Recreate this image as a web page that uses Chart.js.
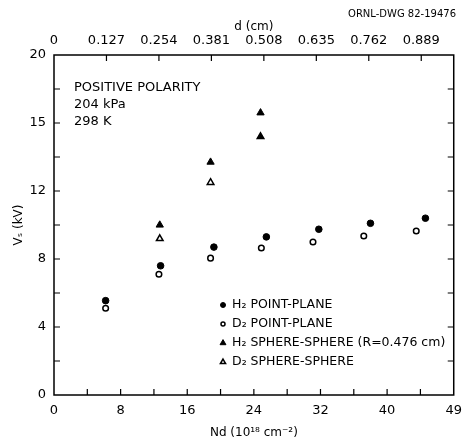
<!DOCTYPE html>
<html>
<head>
<meta charset="utf-8">
<script src="https://cdn.jsdelivr.net/npm/chart.js@4.4.1/dist/chart.umd.min.js"></script>
<style>
  html, body { margin: 0; padding: 0; background: #fff; }
  #wrap { width: 470px; height: 442px; }
</style>
</head>
<body>
<div id="wrap"><canvas id="chart"></canvas></div>
<script>
// Datos
const h2PlaneX = [6.2, 12.8, 19.2, 25.5, 31.8, 38.0, 44.6];
const h2PlaneY = [5.55, 7.6, 8.7, 9.3, 9.75, 10.1, 10.4];
const d2PlaneX = [6.2, 12.6, 18.8, 24.9, 31.1, 37.2, 43.5];
const d2PlaneY = [5.1, 7.1, 8.05, 8.65, 9.0, 9.35, 9.65];
const h2SphereX = [12.7, 18.8, 24.8];
const h2SphereY = [10.0, 13.7, 16.6];
const d2SphereX = [12.7, 18.8, 24.8];
const d2SphereY = [9.2, 12.5, 15.2];

const seriesNames = ['H₂ POINT-PLANE', 'D₂ POINT-PLANE', 'H₂ SPHERE-SPHERE (R=0.476 cm)', 'D₂ SPHERE-SPHERE'];

// Etiquetas de los ejes (tal como aparecen)
const yTickValues = [0, 4, 8, 12, 16, 20];
const yTickText = ['0', '4', '8', '12', '15', '20'];
const xTickValues = [0, 8, 16, 24, 32, 40, 48];
const xTickText = ['0', '8', '16', '24', '32', '40', '49'];
const dTickText = ['0', '0.127', '0.254', '0.381', '0.508', '0.635', '0.762', '0.889'];
const dTickStep = 6.3; // Nd por cada 0.127 cm

const notes = ['POSITIVE POLARITY', '204 kPa', '298 K'];
const drawingId = 'ORNL-DWG 82-19476';

const font = 'DejaVu Sans';

function pts(xs, ys) {
    return xs.map((x, i) => ({ x: x, y: ys[i] }));
}

const markerStyles = [
    { pointStyle: 'circle', radius: 3.3, fill: '#000', border: 1 },
    { pointStyle: 'circle', radius: 2.8, fill: '#fff', border: 1.5 },
    { pointStyle: 'triangle', radius: 4.2, fill: '#000', border: 1 },
    { pointStyle: 'triangle', radius: 3.8, fill: '#fff', border: 1.5 }
];

const datasets = [
    pts(h2PlaneX, h2PlaneY),
    pts(d2PlaneX, d2PlaneY),
    pts(h2SphereX, h2SphereY),
    pts(d2SphereX, d2SphereY)
].map((data, i) => ({
    label: seriesNames[i],
    data: data,
    showLine: false,
    pointStyle: markerStyles[i].pointStyle,
    pointRadius: markerStyles[i].radius,
    pointBackgroundColor: (i === 3)
        ? (ctx => ctx.dataIndex === 2 ? '#000' : '#fff')
        : markerStyles[i].fill,
    pointBorderColor: '#000',
    pointBorderWidth: markerStyles[i].border
}));

// Marco, marcas hacia adentro, leyenda y notas
const framePlugin = {
    id: 'frame',
    afterDraw(chart) {
        const ctx = chart.ctx;
        const a = chart.chartArea;
        const sx = chart.scales.x, sy = chart.scales.y, st = chart.scales.xTop;
        ctx.save();
        ctx.strokeStyle = '#000';
        ctx.lineWidth = 1.5;
        ctx.strokeRect(a.left, a.top, a.right - a.left, a.bottom - a.top);
        ctx.lineWidth = 1.2;
        ctx.beginPath();
        for (let v = 4; v < 48; v += 4) {
            const px = sx.getPixelForValue(v);
            ctx.moveTo(px, a.bottom); ctx.lineTo(px, a.bottom - 6);
        }
        for (let k = 1; k < dTickText.length; k++) {
            const px = st.getPixelForValue(k * dTickStep);
            ctx.moveTo(px, a.top); ctx.lineTo(px, a.top + 6);
        }
        for (let v = 2; v < 20; v += 2) {
            const py = sy.getPixelForValue(v);
            ctx.moveTo(a.left, py); ctx.lineTo(a.left + 6, py);
            ctx.moveTo(a.right, py); ctx.lineTo(a.right - 6, py);
        }
        ctx.stroke();

        ctx.fillStyle = '#000';
        ctx.textBaseline = 'middle';
        ctx.textAlign = 'left';
        ctx.font = '13px "' + font + '"';
        notes.forEach((t, i) => ctx.fillText(t, a.left + 20, 88 + i * 17));

        ctx.textAlign = 'right';
        ctx.font = '10px "' + font + '"';
        ctx.fillText(drawingId, 456, 14);

        // leyenda
        ctx.textAlign = 'left';
        ctx.font = '12.5px "' + font + '"';
        const lx = 223, ly = 305, step = 19;
        datasets.forEach((ds, i) => {
            const y = ly + i * step;
            const m = markerStyles[i];
            ctx.lineWidth = m.border;
            ctx.fillStyle = m.fill;
            Chart.helpers.drawPoint(ctx, { pointStyle: m.pointStyle, radius: m.radius - 0.8, borderWidth: m.border }, lx, y);
            ctx.fillStyle = '#000';
            ctx.fillText(ds.label, lx + 9, y);
        });
        ctx.restore();
    }
};

new Chart(document.getElementById('chart'), {
    type: 'scatter',
    data: { datasets: datasets },
    options: {
        responsive: true,
        maintainAspectRatio: false,
        animation: false,
        layout: { padding: { top: 0, right: 10, bottom: 0, left: 0 } },
        plugins: {
            legend: { display: false },
            tooltip: { enabled: false }
        },
        scales: {
            x: {
                type: 'linear',
                position: 'bottom',
                min: 0, max: 48,
                grid: { display: false, drawTicks: false },
                border: { display: false },
                afterBuildTicks: s => { s.ticks = xTickValues.map(v => ({ value: v })); },
                afterFit: s => { s.height = 47; },
                ticks: {
                    color: '#000',
                    padding: 8,
                    maxRotation: 0,
                    autoSkip: false,
                    font: { family: font, size: 13 },
                    callback: (v, i) => xTickText[i]
                },
                title: {
                    display: true,
                    text: 'Nd (10¹⁸ cm⁻²)',
                    color: '#000',
                    padding: { top: 0, bottom: 2 },
                    font: { family: font, size: 12 }
                }
            },
            xTop: {
                type: 'linear',
                position: 'top',
                min: 0, max: 48,
                grid: { display: false, drawTicks: false },
                border: { display: false },
                afterBuildTicks: s => { s.ticks = dTickText.map((t, k) => ({ value: k * dTickStep })); },
                afterFit: s => { s.height = 55; },
                ticks: {
                    color: '#000',
                    padding: 7,
                    maxRotation: 0,
                    autoSkip: false,
                    font: { family: font, size: 13 },
                    callback: (v, i) => dTickText[i]
                },
                title: {
                    display: true,
                    text: 'd (cm)',
                    color: '#000',
                    padding: { top: 20, bottom: 0 },
                    font: { family: font, size: 12 }
                }
            },
            y: {
                type: 'linear',
                min: 0, max: 20,
                grid: { display: false, drawTicks: false },
                border: { display: false },
                afterBuildTicks: s => { s.ticks = yTickValues.map(v => ({ value: v })); },
                afterFit: s => { s.width = 54; },
                ticks: {
                    color: '#000',
                    padding: 8,
                    autoSkip: false,
                    font: { family: font, size: 13 },
                    callback: (v, i) => yTickText[i]
                },
                title: {
                    display: true,
                    text: 'Vₛ (kV)',
                    color: '#000',
                    padding: { top: 12, bottom: 0 },
                    font: { family: font, size: 12 }
                }
            }
        }
    },
    plugins: [framePlugin]
});
</script>
</body>
</html>
